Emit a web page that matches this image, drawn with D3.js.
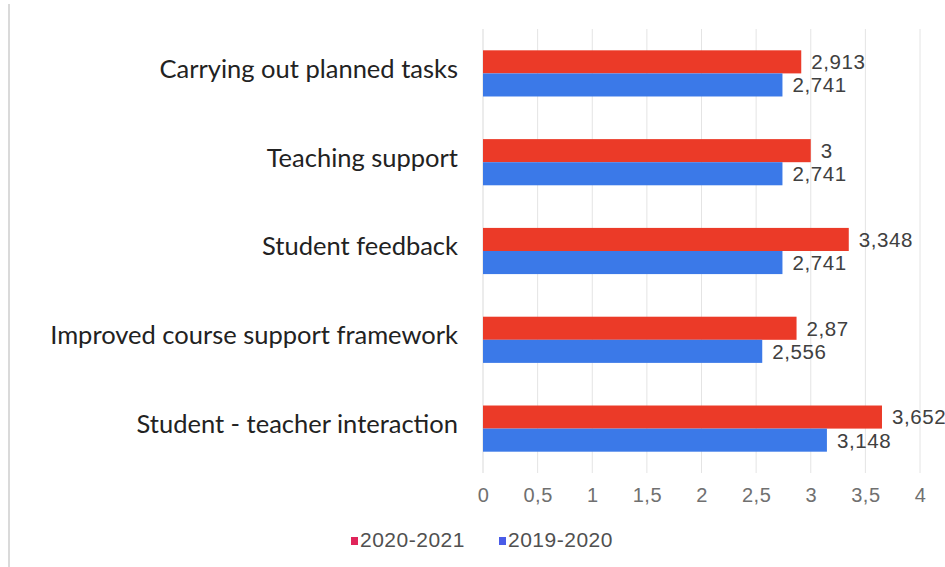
<!DOCTYPE html>
<html>
<head>
<meta charset="utf-8">
<script src="https://cdn.jsdelivr.net/npm/d3@7"></script>
<style>
  html, body { margin: 0; padding: 0; background: #ffffff; }
  svg { display: block; }
</style>
</head>
<body>
<svg id="chart" width="945" height="567"></svg>
<script>
// Survey scores per category, two academic years
const categories = [
  "Carrying out planned tasks",
  "Teaching support ",
  "Student feedback",
  "Improved course support framework",
  "Student - teacher interaction"
];
const seriesNames = ["2020-2021", "2019-2020"];
const values2020_2021 = [2.913, 3, 3.348, 2.87, 3.652];
const values2019_2020 = [2.741, 2.741, 2.741, 2.556, 3.148];
const xTicks = [0, 0.5, 1, 1.5, 2, 2.5, 3, 3.5, 4];
const seriesColors = ["#eb3a28", "#3b79e8"];

const series = [values2020_2021, values2019_2020];
const fmt = v => String(+v.toFixed(3)).replace(".", ",");

const svg = d3.select("#chart");
const plot = { left: 483, right: 920, top: 29, bottom: 473 };
const numFont = "Liberation Sans, Arial, sans-serif";

// faint frame at the left edge
svg.append("line")
  .attr("x1", 9).attr("x2", 9).attr("y1", 4).attr("y2", 567)
  .attr("stroke", "#dadada").attr("stroke-width", 2);

const x = d3.scaleLinear().domain([0, 4]).range([plot.left, plot.right]);
const y = d3.scaleBand().domain(categories).range([plot.top, plot.bottom]).paddingInner(0.48).paddingOuter(0.24);
const ySub = d3.scaleBand().domain(seriesNames).range([0, y.bandwidth()]);

// vertical gridlines
svg.append("g").selectAll("line")
  .data(xTicks.slice(1))
  .join("line")
  .attr("x1", d => x(d)).attr("x2", d => x(d))
  .attr("y1", plot.top).attr("y2", plot.bottom)
  .attr("stroke", "#e4e4e4").attr("stroke-width", 1);

// category axis line
svg.append("line")
  .attr("x1", x(0)).attr("x2", x(0))
  .attr("y1", plot.top).attr("y2", plot.bottom)
  .attr("stroke", "#d9d9d9").attr("stroke-width", 1);

// bars and value labels
const groups = svg.append("g").selectAll("g")
  .data(categories)
  .join("g")
  .attr("transform", c => `translate(0,${y(c)})`);

seriesNames.forEach((name, si) => {
  groups.append("rect")
    .attr("x", x(0))
    .attr("y", ySub(name))
    .attr("width", (c, i) => x(series[si][i]) - x(0))
    .attr("height", ySub.bandwidth())
    .attr("fill", seriesColors[si]);

  groups.append("text")
    .attr("x", (c, i) => x(series[si][i]) + 10)
    .attr("y", ySub(name) + ySub.bandwidth() / 2 + 2)
    .attr("dominant-baseline", "middle")
    .attr("font-family", numFont)
    .attr("font-size", 20.5)
    .attr("letter-spacing", 0.6)
    .attr("fill", "#404040")
    .text((c, i) => fmt(series[si][i]));
});

// category labels
svg.append("g").selectAll("text")
  .data(categories)
  .join("text")
  .attr("x", 458)
  .attr("y", c => y(c) + y.bandwidth() / 2 - 2)
  .attr("text-anchor", "end")
  .attr("dominant-baseline", "middle")
  .attr("font-family", "Lato, 'Open Sans', sans-serif")
  .attr("font-size", 25.5)
  .attr("fill", "#222222")
  .text(c => c);

// value axis
const xAxis = d3.axisBottom(x).tickValues(xTicks).tickSize(0).tickFormat(fmt);
const ax = svg.append("g").attr("transform", `translate(0,${plot.bottom + 12})`).call(xAxis);
ax.select(".domain").remove();
ax.selectAll("text")
  .attr("font-family", numFont)
  .attr("font-size", 20)
  .attr("letter-spacing", 0.5)
  .attr("fill", "#707070");

// legend
const legend = svg.append("g").attr("transform", "translate(351,540)");
const legendItems = [
  { name: seriesNames[0], color: "#e0245a", x: 0 },
  { name: seriesNames[1], color: "#4a5ce8", x: 148 }
];
legendItems.forEach(item => {
  legend.append("rect")
    .attr("x", item.x).attr("y", -3)
    .attr("width", 7).attr("height", 8)
    .attr("fill", item.color);
  legend.append("text")
    .attr("x", item.x + 9).attr("y", 1)
    .attr("dominant-baseline", "middle")
    .attr("font-family", numFont)
    .attr("font-size", 21)
    .attr("letter-spacing", 0.5)
    .attr("fill", "#505050")
    .text(item.name);
});
</script>
</body>
</html>
